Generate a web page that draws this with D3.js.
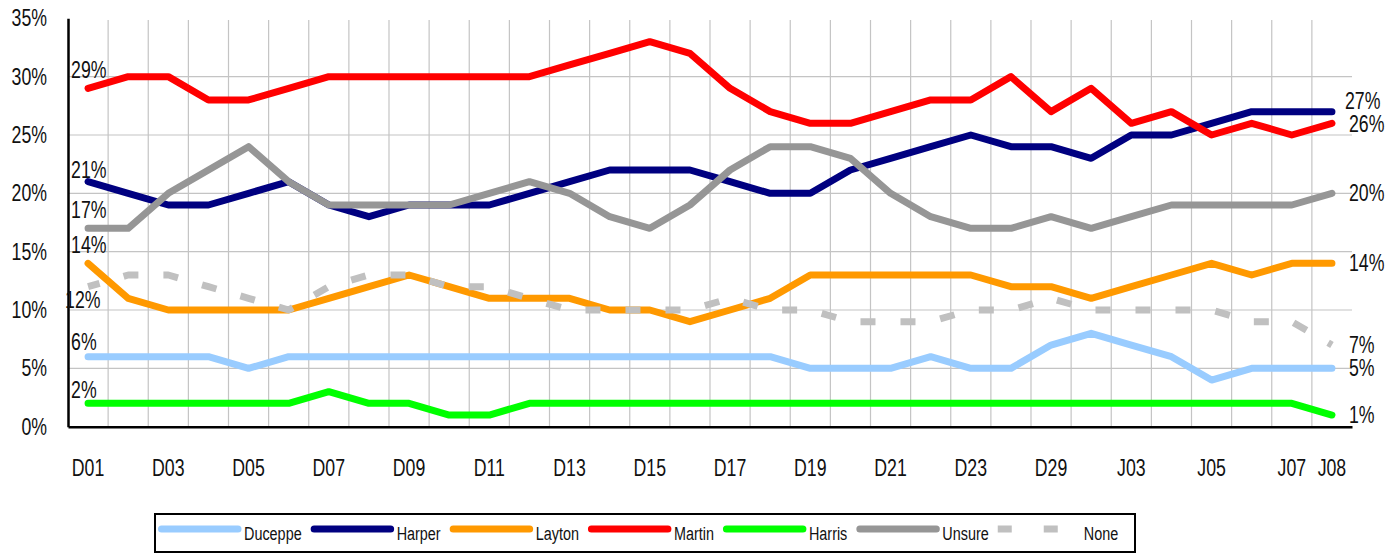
<!DOCTYPE html>
<html>
<head>
<meta charset="utf-8">
<script src="https://cdn.jsdelivr.net/npm/d3@7"></script>
<style>
  body { margin: 0; background: #fff; }
  svg text { font-family: "Liberation Sans", Arial, sans-serif; fill: #111; }
</style>
</head>
<body>
<div id="chart"></div>
<script>
// poll dates, Dec 2005 - Jan 2006
var categories = ["D01","D02","D03","D04","D05","D06","D07","D08","D09","D10","D11","D12",
  "D13","D14","D15","D16","D17","D18","D19","D20","D21","D22","D23","D28","D29","J02",
  "J03","J04","J05","J06","J07","J08"];
var tickLabels = ["D01","D03","D05","D07","D09","D11","D13","D15","D17","D19","D21","D23",
  "D29","J03","J05","J07","J08"];
var yTicks = [0, 5, 10, 15, 20, 25, 30, 35];

// percent values
var duceppe = [6,6,6,6,5,6,6,6,6,6,6,6,6,6,6,6,6,6,5,5,5,6,5,5,7,8,7,6,4,5,5,5];
var harper  = [21,20,19,19,20,21,19,18,19,19,19,20,21,22,22,22,21,20,20,22,23,24,25,24,24,23,25,25,26,27,27,27];
var layton  = [14,11,10,10,10,10,11,12,13,12,11,11,11,10,10,9,10,11,13,13,13,13,13,12,12,11,12,13,14,13,14,14];
var martin  = [29,30,30,28,28,29,30,30,30,30,30,30,31,32,33,32,29,27,26,26,27,28,28,30,27,29,26,27,25,26,25,26];
var harris  = [2,2,2,2,2,2,3,2,2,1,1,2,2,2,2,2,2,2,2,2,2,2,2,2,2,2,2,2,2,2,2,1];
var unsure  = [17,17,20,22,24,21,19,19,19,19,20,21,20,18,17,19,22,24,24,23,20,18,17,17,18,17,18,19,19,19,19,20];
var none    = [12,13,13,12,11,10,12,13,13,12,12,11,10,10,10,10,11,10,10,9,9,9,10,10,11,10,10,10,10,9,9,7];

var series = [
  {name: "Duceppe", values: duceppe, color: "#99ccff", left: [-17, -15], right: [17, 0]},
  {name: "Harper",  values: harper,  color: "#000080", left: [-17, -12], right: [13, -11]},
  {name: "Layton",  values: layton,  color: "#ff9900", left: [-17, -18], right: [17, 0]},
  {name: "Martin",  values: martin,  color: "#ff0000", left: [-17, -18], right: [17, 1]},
  {name: "Harris",  values: harris,  color: "#00ff00", left: [-17, -13], right: [17, 0]},
  {name: "Unsure",  values: unsure,  color: "#969696", left: [-17, -18], right: [17, 0]},
  {name: "None",    values: none,    color: "#c0c0c0", left: [-23, 13], right: [17, 0], dashed: true}
];

var width = 1396, height = 554;
var plot = {left: 68, right: 1352, top: 18.3, bottom: 426.7};
var squeeze = 0.77;        // the original uses a condensed face
var legendSqueeze = 0.8;

var svg = d3.select("#chart").append("svg")
  .attr("width", width)
  .attr("height", height);

var x = d3.scaleBand()
  .domain(categories)
  .range([plot.left, plot.right]);
var cx = function(c) { return x(c) + x.bandwidth() / 2; };

var y = d3.scaleLinear()
  .domain([0, 35])
  .range([plot.bottom, plot.top]);

// gridlines
svg.append("g").attr("class", "grid-v")
  .selectAll("line")
  .data(categories.slice(1))
  .enter().append("line")
    .attr("x1", function(d) { return x(d); })
    .attr("x2", function(d) { return x(d); })
    .attr("y1", 20)
    .attr("y2", plot.bottom)
    .attr("stroke", "#c4c4c4")
    .attr("stroke-width", 1.2);

svg.append("g").attr("class", "grid-h")
  .selectAll("line")
  .data(yTicks.filter(function(d) { return d > 0 && d < 35; }))
  .enter().append("line")
    .attr("x1", plot.left)
    .attr("x2", plot.right)
    .attr("y1", function(d) { return y(d); })
    .attr("y2", function(d) { return y(d); })
    .attr("stroke", "#c4c4c4")
    .attr("stroke-width", 1.2);

// axes
var yAxis = d3.axisLeft(y)
  .tickValues(yTicks)
  .tickSize(0)
  .tickPadding(21)
  .tickFormat(function(d) { return d + "%"; });

var gy = svg.append("g")
  .attr("transform", "translate(" + plot.left + ",0)")
  .call(yAxis);
gy.select(".domain").attr("stroke", "#000").attr("stroke-width", 2.5);
gy.selectAll("text").style("font-size", "23px");

var xAxis = d3.axisBottom(x)
  .tickValues(tickLabels)
  .tickSize(0)
  .tickPadding(33);

var gx = svg.append("g")
  .attr("transform", "translate(0," + plot.bottom + ")")
  .call(xAxis);
gx.select(".domain").attr("stroke", "#000").attr("stroke-width", 2.5);
gx.selectAll("text").style("font-size", "23px");

// lines
var line = d3.line()
  .x(function(d, i) { return cx(categories[i]); })
  .y(function(d) { return y(d); });

svg.append("g").attr("class", "lines")
  .selectAll("path")
  .data(series)
  .enter().append("path")
    .attr("d", function(s) { return line(s.values); })
    .attr("fill", "none")
    .attr("stroke", function(s) { return s.color; })
    .attr("stroke-width", 7)
    .attr("stroke-linejoin", "round")
    .attr("stroke-linecap", function(s) { return s.dashed ? "butt" : "round"; })
    .attr("stroke-dasharray", function(s) { return s.dashed ? "15,25" : null; })
    .attr("stroke-dashoffset", function(s) { return s.dashed ? 3 : null; });

// end labels
var first = categories[0], last = categories[categories.length - 1];
var labels = svg.append("g").attr("class", "labels");
series.forEach(function(s) {
  var v0 = s.values[0], v1 = s.values[s.values.length - 1];
  labels.append("text")
    .attr("x", cx(first) + s.left[0])
    .attr("y", y(v0) + s.left[1])
    .attr("dy", "0.35em")
    .style("font-size", "23px")
    .text(v0 + "%");
  labels.append("text")
    .attr("x", cx(last) + s.right[0])
    .attr("y", y(v1) + s.right[1])
    .attr("dy", "0.35em")
    .style("font-size", "23px")
    .text(v1 + "%");
});

// narrow every label to mimic the condensed typeface
svg.selectAll("text").each(function() {
  var w = this.getComputedTextLength();
  d3.select(this)
    .attr("textLength", w * squeeze)
    .attr("lengthAdjust", "spacingAndGlyphs");
});

// legend
var legend = svg.append("g").attr("class", "legend");
legend.append("rect")
  .attr("x", 155)
  .attr("y", 514)
  .attr("width", 980)
  .attr("height", 38)
  .attr("fill", "#fff")
  .attr("stroke", "#000")
  .attr("stroke-width", 2);

var lx = 158;
series.forEach(function(s) {
  legend.append("line")
    .attr("x1", s.dashed ? lx : lx + 3.5)
    .attr("x2", lx + 80)
    .attr("y1", 529)
    .attr("y2", 529)
    .attr("stroke", s.color)
    .attr("stroke-width", 7)
    .attr("stroke-linecap", s.dashed ? "butt" : "round")
    .attr("stroke-dasharray", s.dashed ? "14,32" : null);
  var t = legend.append("text")
    .attr("x", lx + 86)
    .attr("y", 540)
    .style("font-size", "18px")
    .text(s.name);
  var w = t.node().getComputedTextLength() * legendSqueeze;
  t.attr("textLength", w).attr("lengthAdjust", "spacingAndGlyphs");
  lx += 86 + w + 9;
});
</script>
</body>
</html>
